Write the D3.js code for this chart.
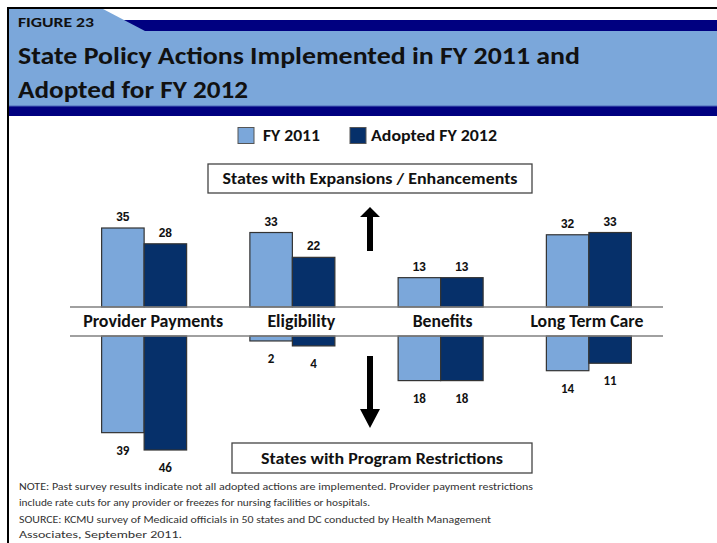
<!DOCTYPE html>
<html>
<head>
<meta charset="utf-8">
<script src="https://cdn.jsdelivr.net/npm/d3@7"></script>
<style>
  html, body { margin: 0; padding: 0; background: #fff; }
  svg { display: block; }
  .calib { font-family: Carlito, Lato, "Open Sans", sans-serif; font-weight: bold; }
  .arial { font-family: "Liberation Sans", Arial, sans-serif; font-weight: bold; }
</style>
</head>
<body>
<div id="chart"></div>
<script>
// Chart values
const categories = ['Provider Payments', 'Eligibility', 'Benefits', 'Long Term Care'];
const seriesNames = ['FY 2011', 'Adopted FY 2012'];
const expansions2011 = [35, 33, 13, 32];
const expansions2012 = [28, 22, 13, 33];
const restrictions2011 = [39, 2, 18, 14];
const restrictions2012 = [46, 4, 18, 11];
const figureLabel = 'FIGURE 23';
const titleLines = ['State Policy Actions Implemented in FY 2011 and', 'Adopted for FY 2012'];
const upperBoxText = 'States with Expansions / Enhancements';
const lowerBoxText = 'States with Program Restrictions';
const noteLines = [
    'NOTE: Past survey results indicate not all adopted actions are implemented. Provider payment restrictions',
    'include rate cuts for any provider or freezes for nursing facilities or hospitals.'
];
const sourceLines = [
    'SOURCE: KCMU survey of Medicaid officials in 50 states and DC conducted by Health Management',
    'Associates, September 2011.'
];

const W = 717, H = 543;
const LIGHT = '#7ba7da';
const DARK = '#06306a';
const NAVY = '#000080';

const svg = d3.select('#chart').append('svg')
    .attr('width', W)
    .attr('height', H);

// squeeze / stretch a text to a measured width
function fit(sel, width) {
    sel.attr('textLength', width).attr('lengthAdjust', 'spacingAndGlyphs');
    return sel;
}

// --- header ---
svg.append('rect').attr('x', 100).attr('y', 20).attr('width', W - 100).attr('height', 11).attr('fill', NAVY);
svg.append('path')
    .attr('d', 'M9,9 L103,9 L145,31 L9,31 Z')
    .attr('fill', LIGHT);
svg.append('rect').attr('x', 9).attr('y', 31).attr('width', W - 9).attr('height', 75).attr('fill', LIGHT);
svg.append('rect').attr('x', 9).attr('y', 106).attr('width', W - 9).attr('height', 10).attr('fill', NAVY);
svg.append('rect').attr('x', 9).attr('y', 105.5).attr('width', W - 9).attr('height', 1).attr('fill', '#4a66b8');

// frame
svg.append('rect').attr('x', 7).attr('y', 7).attr('width', W - 7).attr('height', 2).attr('fill', '#000');
svg.append('rect').attr('x', 7).attr('y', 7).attr('width', 2).attr('height', H - 7).attr('fill', '#000');

fit(svg.append('text').attr('class', 'calib')
    .attr('x', 18).attr('y', 27).attr('font-size', 13).attr('fill', '#111')
    .text(figureLabel), 76);

fit(svg.append('text').attr('class', 'calib')
    .attr('x', 18).attr('y', 64).attr('font-size', 25).attr('fill', '#111')
    .text(titleLines[0]), 562);
fit(svg.append('text').attr('class', 'calib')
    .attr('x', 18).attr('y', 98).attr('font-size', 25).attr('fill', '#111')
    .text(titleLines[1]), 230);

// --- legend ---
const legendX = [238, 350];
const legendW = [57, 126];
seriesNames.forEach((name, i) => {
    svg.append('rect')
        .attr('x', legendX[i]).attr('y', 127.5)
        .attr('width', 16).attr('height', 16)
        .attr('fill', i === 0 ? LIGHT : DARK)
        .attr('stroke', '#555').attr('stroke-width', 1);
    fit(svg.append('text').attr('class', 'calib')
        .attr('x', legendX[i] + 21 + (i === 0 ? 4 : 0)).attr('y', 141)
        .attr('font-size', 15).attr('fill', '#111')
        .text(name), legendW[i]);
});

// --- scales ---
const x = d3.scaleBand()
    .domain(categories)
    .range([70, 663]);

const barW = 42.5;
const xSub = d3.scaleBand()
    .domain(seriesNames)
    .range([x.bandwidth() / 2 - barW, x.bandwidth() / 2 + barW]);

const yUp = d3.scaleLinear().domain([0, 35]).range([307, 228]);
const yDown = d3.scaleLinear().domain([0, 46]).range([336, 450]);

const upData = categories.flatMap((c, i) => [
    { cat: c, series: seriesNames[0], value: expansions2011[i] },
    { cat: c, series: seriesNames[1], value: expansions2012[i] }
]);
const downData = categories.flatMap((c, i) => [
    { cat: c, series: seriesNames[0], value: restrictions2011[i] },
    { cat: c, series: seriesNames[1], value: restrictions2012[i] }
]);

const fillFor = d => d.series === seriesNames[0] ? LIGHT : DARK;

// upper bars
svg.selectAll('.bar-up')
    .data(upData)
    .enter()
    .append('rect')
    .attr('class', 'bar-up')
    .attr('x', d => x(d.cat) + xSub(d.series))
    .attr('y', d => yUp(d.value))
    .attr('width', xSub.bandwidth())
    .attr('height', d => yUp(0) - yUp(d.value))
    .attr('fill', fillFor)
    .attr('stroke', '#333')
    .attr('stroke-width', 1.2);

// lower bars
svg.selectAll('.bar-down')
    .data(downData)
    .enter()
    .append('rect')
    .attr('class', 'bar-down')
    .attr('x', d => x(d.cat) + xSub(d.series))
    .attr('y', yDown(0))
    .attr('width', xSub.bandwidth())
    .attr('height', d => yDown(d.value) - yDown(0))
    .attr('fill', fillFor)
    .attr('stroke', '#333')
    .attr('stroke-width', 1.2);

// value labels
svg.selectAll('.lbl-up')
    .data(upData)
    .enter()
    .append('text')
    .attr('class', 'arial')
    .attr('x', d => x(d.cat) + xSub(d.series) + xSub.bandwidth() / 2)
    .attr('y', d => yUp(d.value) - 7)
    .attr('text-anchor', 'middle')
    .attr('font-size', 12)
    .attr('fill', '#111')
    .text(d => d.value);

svg.selectAll('.lbl-down')
    .data(downData)
    .enter()
    .append('text')
    .attr('class', 'calib')
    .attr('x', d => x(d.cat) + xSub(d.series) + xSub.bandwidth() / 2)
    .attr('y', d => yDown(d.value) + 22)
    .attr('text-anchor', 'middle')
    .attr('font-size', 13)
    .attr('fill', '#111')
    .text(d => d.value);

// zero lines with the category band between them
[yUp(0), yDown(0)].forEach(yy => {
    svg.append('line')
        .attr('x1', 70).attr('x2', 663)
        .attr('y1', yy).attr('y2', yy)
        .attr('stroke', '#808080')
        .attr('stroke-width', 1.5);
});

const catWidths = [140, 68, 60, 113];
const catShift = [9, 9, 2, -2];
categories.forEach((c, i) => {
    fit(svg.append('text').attr('class', 'calib')
        .attr('x', x(c) + x.bandwidth() / 2 + catShift[i])
        .attr('y', 327)
        .attr('text-anchor', 'middle')
        .attr('font-size', 17)
        .attr('fill', '#111')
        .text(c), catWidths[i]);
});

// --- direction boxes and arrows ---
function labelBox(x0, y0, w, h, text, tw) {
    svg.append('rect')
        .attr('x', x0).attr('y', y0).attr('width', w).attr('height', h)
        .attr('fill', '#fff').attr('stroke', '#444').attr('stroke-width', 1.3);
    fit(svg.append('text').attr('class', 'calib')
        .attr('x', x0 + w / 2).attr('y', y0 + h / 2 + 5.5)
        .attr('text-anchor', 'middle')
        .attr('font-size', 16)
        .attr('fill', '#111')
        .text(text), tw);
}
labelBox(208, 164, 324, 29, upperBoxText, 295);
labelBox(232, 443, 300, 30, lowerBoxText, 242);

svg.append('path')
    .attr('d', 'M367,251 L367,217 L360,217 L370,207 L380,217 L373,217 L373,251 Z')
    .attr('fill', '#000');
svg.append('path')
    .attr('d', 'M367,356 L367,409 L360,409 L370,428 L380,409 L373,409 L373,356 Z')
    .attr('fill', '#000');

// --- notes ---
const noteW = [514, 351];
const srcW = [472, 163];
noteLines.forEach((t, i) => {
    fit(svg.append('text').attr('class', 'calib').style('font-weight', 'normal')
        .attr('x', 19).attr('y', 490 + i * 16)
        .attr('font-size', 11).attr('fill', '#333')
        .text(t), noteW[i]);
});
sourceLines.forEach((t, i) => {
    fit(svg.append('text').attr('class', 'calib').style('font-weight', 'normal')
        .attr('x', 19).attr('y', 523 + i * 15)
        .attr('font-size', 11).attr('fill', '#333')
        .text(t), srcW[i]);
});
</script>
</body>
</html>
